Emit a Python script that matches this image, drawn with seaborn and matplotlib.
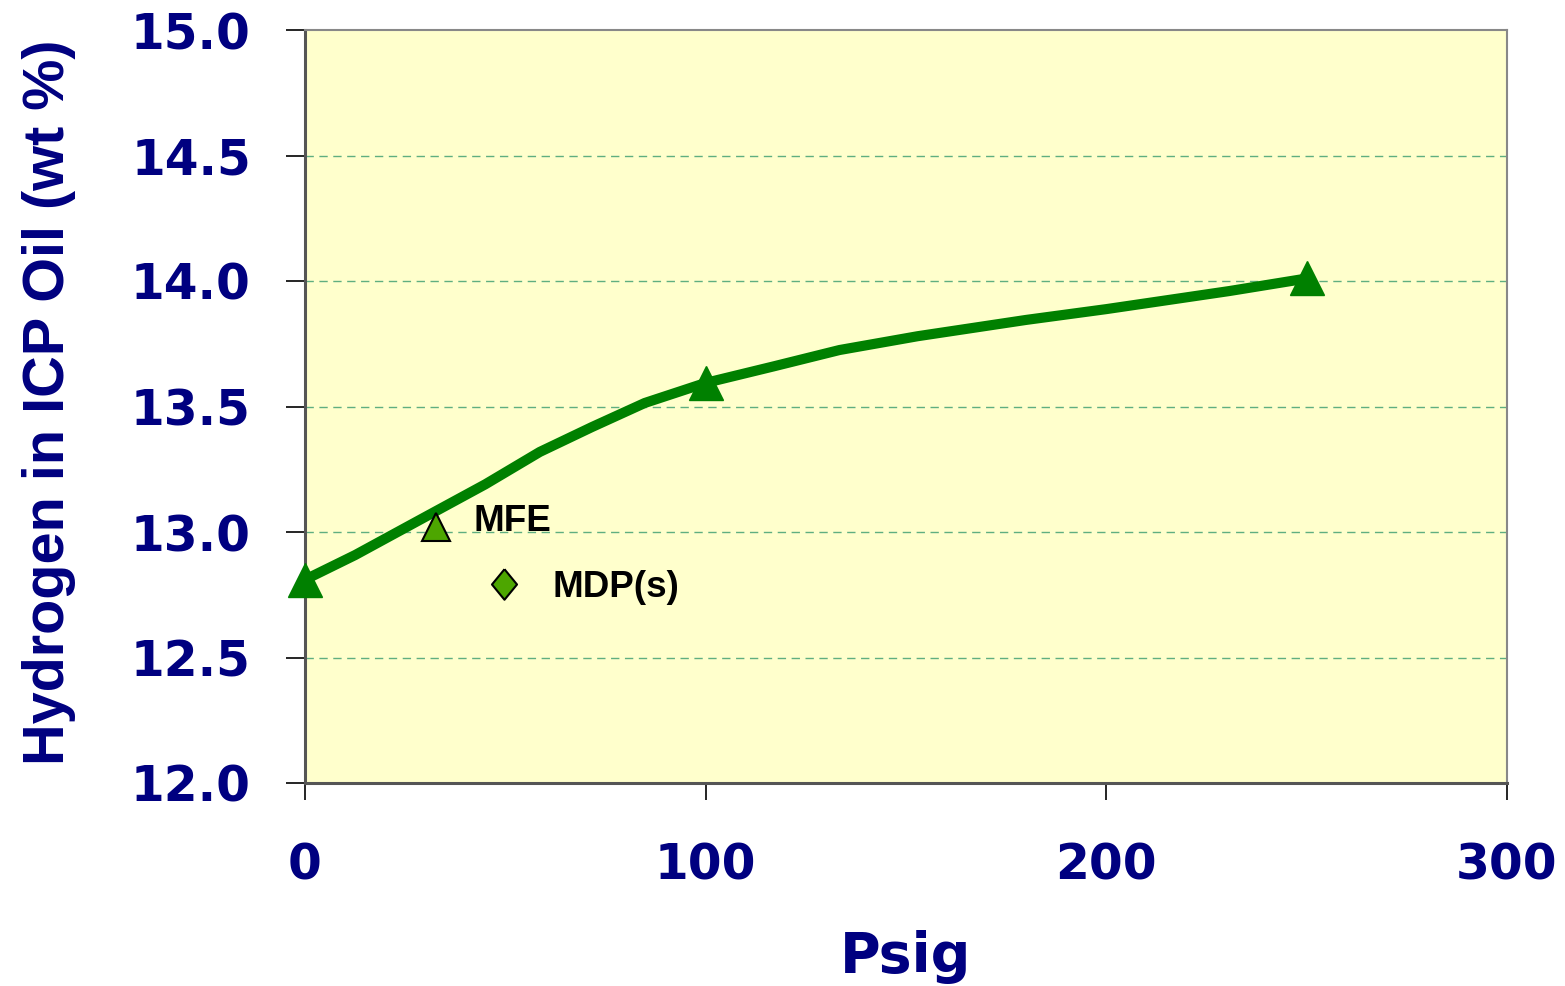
import matplotlib
matplotlib.use("Agg")
import matplotlib.pyplot as plt
import seaborn as sns
import numpy as np

# Smoothed curve (psig, wt %)
curve_x = [0, 12.5, 30, 45, 58.6, 71.6, 84.8, 100, 117, 133.4, 152.9, 180, 200, 230.7, 250]
curve_y = [12.81, 12.908, 13.06, 13.19, 13.319, 13.418, 13.514, 13.594, 13.66, 13.725, 13.78, 13.845, 13.888, 13.96, 14.01]

# Marked data points on the curve
main_x = [0, 100, 250]
main_y = [12.81, 13.594, 14.01]

# Legend-like labelled markers
mfe_x = [32.6]
mfe_y = [13.02]
mdp_x = [49.6]
mdp_y = [12.793]

xticks = [0, 100, 200, 300]
yticks = [12.0, 12.5, 13.0, 13.5, 14.0, 14.5, 15.0]

sns.set_style("white")
navy = "#000080"
green = "#008000"
light_green = "#4da600"

fig = plt.figure(figsize=(15.65, 9.86), dpi=100)
ax = fig.add_axes([305/1565, 1-783/986, (1507-305)/1565, (783-30)/986])
ax.set_facecolor("#FFFFCC")

# gridlines
for yv in yticks[1:-1]:
    ax.axhline(yv, color="#5fae80", lw=1.0, ls=(0, (6, 4)), zorder=1)

sns.lineplot(x=curve_x, y=curve_y, ax=ax, color=green, lw=7.3, zorder=3,
             sort=False, estimator=None)
ax.plot(main_x, main_y, ls="none", marker="^", markersize=25, color=green,
        markeredgecolor=green, clip_on=False, zorder=4)

ax.plot(mfe_x, mfe_y, ls="none", marker="^", markersize=20, color=light_green,
        markeredgecolor="black", markeredgewidth=1.5, zorder=4)
diamond = [(0, 1), (0.82, 0), (0, -1), (-0.82, 0), (0, 1)]
ax.plot(mdp_x, mdp_y, ls="none", marker=diamond, markersize=22, color=light_green,
        markeredgecolor="black", markeredgewidth=1.5, zorder=4)

lab_font = dict(family="Liberation Sans", weight="bold", size=26.5, color="black")
ax.text(42.1, 13.04, "MFE", va="center", ha="left", **lab_font)
ax.text(61.8, 12.777, "MDP(s)", va="center", ha="left", **lab_font)

ax.set_xlim(0, 300)
ax.set_ylim(12.0, 15.0)
ax.set_xticks(xticks)
ax.set_yticks(yticks)
ax.set_xticklabels([str(v) for v in xticks])
ax.set_yticklabels([f"{v:.1f}" for v in yticks])

ax.tick_params(axis="y", direction="out", length=14, width=1.2, color="black", pad=25,
               labelsize=35, labelcolor=navy, left=True)
ax.tick_params(axis="x", direction="out", length=12, width=1.2, color="black", pad=30,
               labelsize=35, labelcolor=navy, bottom=True)
for lbl in ax.get_xticklabels() + ax.get_yticklabels():
    lbl.set_fontweight("bold")
    lbl.set_family("DejaVu Sans")

for side in ["left", "bottom"]:
    ax.spines[side].set_color("#555555")
    ax.spines[side].set_linewidth(2.2)
for side in ["top", "right"]:
    ax.spines[side].set_color("#888888")
    ax.spines[side].set_linewidth(1.5)
    ax.spines[side].set_visible(True)

ax.set_xlabel("Psig", family="DejaVu Sans", weight="bold", size=40, color=navy)
ax.set_ylabel("Hydrogen in ICP Oil (wt %)", family="Liberation Sans", weight="bold",
              size=41.5, color=navy)
ax.yaxis.set_label_coords(-(305-76)/1202, 1-(402-30)/753)
ax.xaxis.set_label_coords((906-305)/1202, -(930-783)/753)

fig.savefig("out.png", dpi=100)
